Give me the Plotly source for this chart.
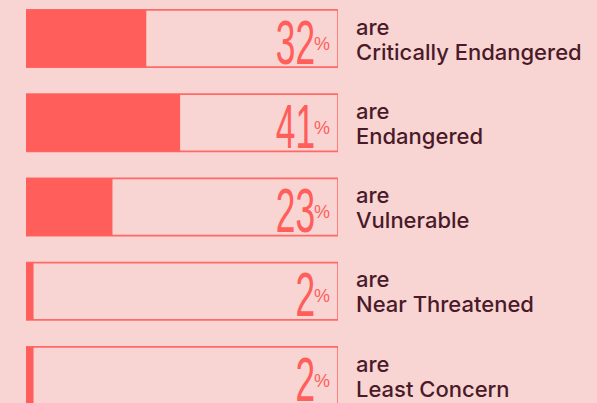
import plotly.graph_objects as go

categories = ["Critically Endangered", "Endangered", "Vulnerable", "Near Threatened", "Least Concern"]
percent_values = [32, 41, 23, 2, 2]
prefix_labels = ["are", "are", "are", "are", "are"]

XMAX = 83
BG = "#f8d5d3"
RED = "#ff5e5b"
OUTLINE = "#ff6a67"
DARK = "#4a1a29"

pos = list(range(len(categories)))

fig = go.Figure()
fig.add_trace(go.Bar(
    x=[XMAX] * len(categories), y=pos, orientation="h", width=0.68,
    marker=dict(color="rgba(0,0,0,0)", line=dict(color=OUTLINE, width=1.6)),
    hoverinfo="skip", showlegend=False,
))
fig.add_trace(go.Bar(
    x=percent_values, y=pos, orientation="h", width=0.68,
    marker=dict(color=RED, line=dict(width=0)),
    showlegend=False,
))

ann = []
for i, v in enumerate(percent_values):
    ann.append(dict(x=XMAX, y=i, xref="x", yref="y", text=str(v), showarrow=False,
                    xanchor="right", yanchor="middle", xshift=-21, yshift=-3,
                    font=dict(family="Liberation Sans", size=63, color=RED)))
for i, v in enumerate(percent_values):
    ann.append(dict(x=XMAX, y=i, xref="x", yref="y", text="%", showarrow=False,
                    xanchor="right", yanchor="middle", xshift=-6, yshift=-5,
                    font=dict(family="Liberation Sans", size=18, color=RED)))
for i, c in enumerate(categories):
    ann.append(dict(x=354 / 597, y=i, xref="paper", yref="y", text=prefix_labels[i], showarrow=False,
                    xanchor="left", yanchor="middle", yshift=12,
                    font=dict(family="Inter", size=22, color=DARK, weight=500)))
    ann.append(dict(x=354 / 597, y=i, xref="paper", yref="y", text=c, showarrow=False,
                    xanchor="left", yanchor="middle", yshift=-13,
                    font=dict(family="Inter", size=22, color=DARK, weight=500)))

fig.update_layout(
    width=597, height=403, margin=dict(l=0, r=0, t=0, b=0),
    paper_bgcolor=BG, plot_bgcolor=BG, barmode="overlay",
    xaxis=dict(domain=[26 / 597, 338 / 597], range=[0, XMAX], visible=False, fixedrange=True),
    yaxis=dict(range=[4.326, -0.457], visible=False, fixedrange=True),
    annotations=ann,
)

post = """
document.documentElement.style.margin='0';
document.body.style.margin='0';
document.body.style.background='#f8d5d3';
var gd=document.getElementById('{plot_id}');
function squeeze(){
  gd.querySelectorAll('g.annotation').forEach(function(g){
    var i=+g.getAttribute('data-index');
    if(i<5){
      var t=g.querySelector('text.annotation-text');
      if(t){t.style.transformBox='fill-box';t.style.transformOrigin='right center';t.style.transform='scaleX(0.56)';}
    }
  });
}
squeeze(); gd.on('plotly_afterplot', squeeze);
"""
fig.write_html("out.html", post_script=post, config={"displayModeBar": False})
